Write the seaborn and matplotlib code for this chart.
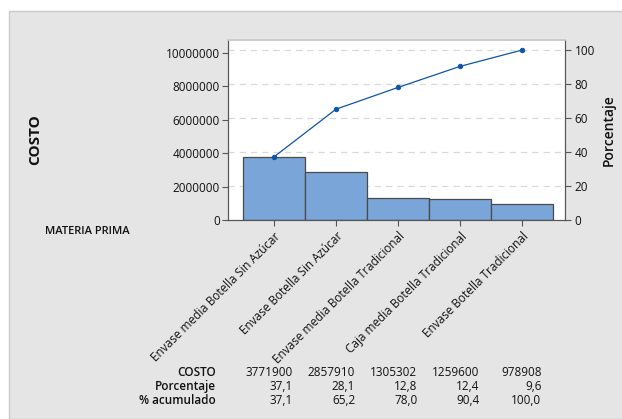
import matplotlib
matplotlib.use("Agg")
import matplotlib.pyplot as plt
from matplotlib.patches import Rectangle
from matplotlib.ticker import FixedLocator
import seaborn as sns
import pandas as pd

categorias = ['Envase media Botella Sin Azúcar', 'Envase Botella Sin Azúcar',
              'Envase media Botella Tradicional', 'Caja media Botella Tradicional',
              'Envase Botella Tradicional']
costo = [3771900, 2857910, 1305302, 1259600, 978908]
porcentaje = [37.1, 28.1, 12.8, 12.4, 9.6]
acumulado = [37.1, 65.2, 78.0, 90.4, 100.0]

df = pd.DataFrame({'MATERIA PRIMA': categorias, 'COSTO': costo,
                   'Porcentaje': porcentaje, 'Acumulado': acumulado})
total = sum(costo)

sns.set_theme(style="white")
plt.rcParams['font.family'] = ['Open Sans', 'DejaVu Sans']
plt.rcParams['text.color'] = '#111111'
plt.rcParams['xtick.color'] = '#111111'
plt.rcParams['ytick.color'] = '#111111'
plt.rcParams['axes.labelcolor'] = '#111111'

fig = plt.figure(figsize=(6.22, 4.19), dpi=100)
fig.patch.set_facecolor('white')
fig.patches.append(Rectangle((9 / 622, 0), 1, 1 - 11 / 419, transform=fig.transFigure,
                             facecolor='#e5e5e5', edgecolor='#c9c9c9', lw=1, zorder=-10))

ax = fig.add_axes([228 / 622, 1 - 220 / 419, 337 / 622, 180 / 419])
ax.set_facecolor('white')
sns.barplot(data=df, x='MATERIA PRIMA', y='COSTO', color='#7aa5d8', width=1.0,
            edgecolor='#4a4a4a', linewidth=0.9, saturation=1, ax=ax, zorder=2)

top = 105.9
ax.set_ylim(0, total * top / 100)
ax.set_xlim(-0.74, 4.69)
ax.set_yticks([0, 2000000, 4000000, 6000000, 8000000, 10000000])
ax.set_yticklabels(['0', '2000000', '4000000', '6000000', '8000000', '10000000'])
ax.yaxis.set_minor_locator(FixedLocator([total * p / 100 for p in (20, 40, 60, 80, 100)]))
ax.grid(True, which='minor', axis='y', color='#d9d9d9', ls=(0, (5, 4)), lw=0.9)
ax.set_axisbelow(True)
ax.tick_params(axis='y', which='minor', length=0)
ax.tick_params(axis='y', which='major', length=4, width=0.8, color='#555555',
               labelsize=8.5, pad=2, left=True)
ax.tick_params(axis='x', length=4, width=0.8, color='#555555', labelsize=8.5,
               pad=3, bottom=True)
ax.set_xticks(range(len(categorias)))
ax.set_xticklabels(categorias, rotation=45, ha='right', rotation_mode='anchor')
ax.set_xlabel('')
ax.set_ylabel('')
for side in ('left', 'bottom', 'right'):
    ax.spines[side].set_color('#555555')
    ax.spines[side].set_linewidth(0.8)
ax.spines['top'].set_color('#cccccc')

ax2 = ax.twinx()
sns.pointplot(data=df, x='MATERIA PRIMA', y='Acumulado', color='#0b56a6',
              markers='o', markersize=3.2, linewidth=0.9, ax=ax2, zorder=3)
ax2.set_ylim(0, top)
ax2.set_xlim(-0.74, 4.69)
ax2.set_yticks([0, 20, 40, 60, 80, 100])
ax2.tick_params(axis='y', length=4, width=0.8, color='#555555', labelsize=8.5,
                pad=3, right=True)
ax2.set_ylabel('Porcentaje', fontsize=10, fontweight='semibold', labelpad=5)
ax2.set_xlabel('')
for side in ('left', 'bottom', 'right'):
    ax2.spines[side].set_color('#555555')
    ax2.spines[side].set_linewidth(0.8)
ax2.spines['top'].set_color('#cccccc')

fig.text(35 / 622, 1 - 140 / 419, 'COSTO', rotation=90, ha='center', va='center',
         fontsize=11, fontweight='bold')
fig.text(45 / 622, 1 - 232 / 419, 'MATERIA PRIMA', ha='left', va='center',
         fontsize=8, fontweight='semibold')

filas = [('COSTO', [str(v) for v in costo]),
         ('Porcentaje', [f'{v:.1f}'.replace('.', ',') for v in porcentaje]),
         ('% acumulado', [f'{v:.1f}'.replace('.', ',') for v in acumulado])]
ys = [372, 386, 400]
trans = matplotlib.transforms.blended_transform_factory(ax.transData, fig.transFigure)
for (nombre, vals), yy in zip(filas, ys):
    fy = 1 - yy / 419
    fig.text(216 / 622, fy, nombre, ha='right', va='center', fontsize=8.5,
             fontweight='semibold')
    for i, v in enumerate(vals):
        ax.text(i + 0.31, fy, v, transform=trans, ha='right', va='center', fontsize=8.5)

fig.savefig('out.png', dpi=100)
